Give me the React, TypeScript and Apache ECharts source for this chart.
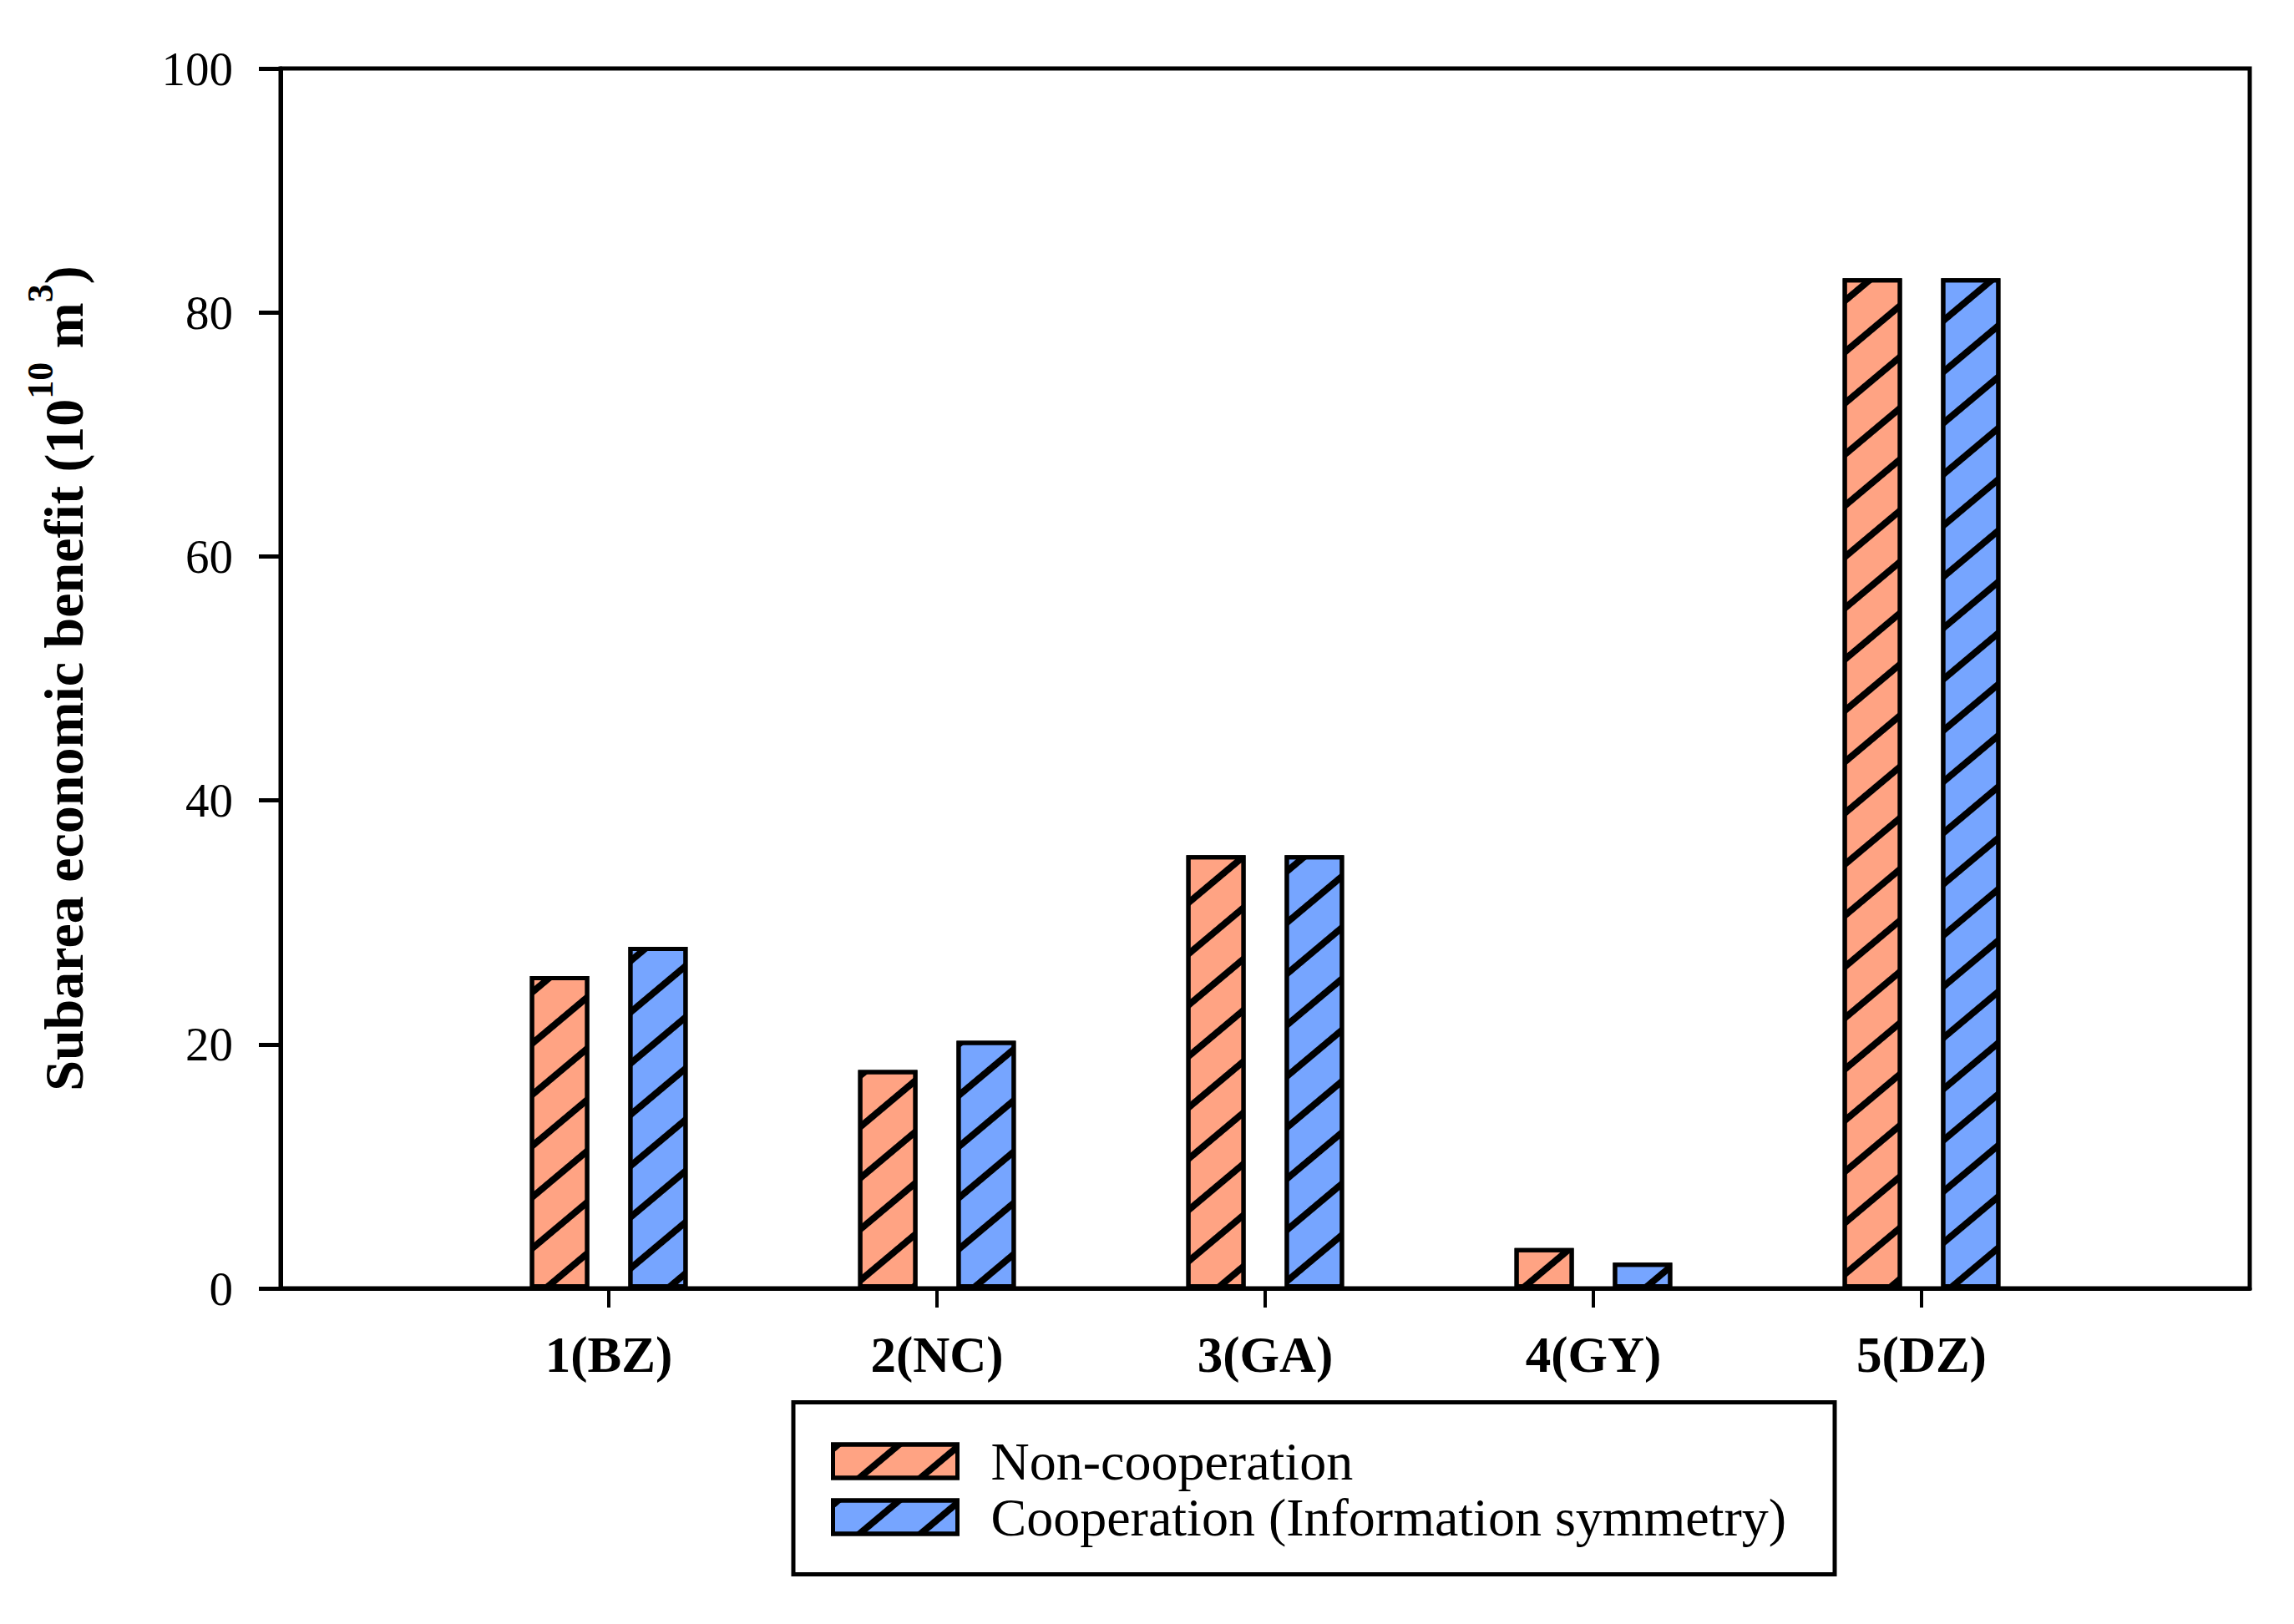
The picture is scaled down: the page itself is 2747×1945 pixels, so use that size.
import React, { useEffect, useRef } from 'react';
import * as echarts from 'echarts';

const categories = ['1(BZ)', '2(NC)', '3(GA)', '4(GY)', '5(DZ)'];
const nonCooperation = [25.6, 17.9, 35.5, 3.3, 82.8];
const cooperation = [28.0, 20.3, 35.5, 2.1, 82.8];
const seriesNames = ['Non-cooperation', 'Cooperation (Information symmetry)'];
const yMin = 0;
const yMax = 100;
const yStep = 20;

const SERIF = '"Liberation Serif", "Times New Roman", Times, serif';

export default function App() {
  const ref = useRef<HTMLDivElement>(null);

  useEffect(() => {
    document.body.style.margin = '0';
    const chart = echarts.init(ref.current as HTMLDivElement, undefined, { renderer: 'svg' });
    const pad = (arr: number[]) => ['-', ...arr, '-'];
    const xLabels = ['', ...categories, ''];
    const hatch = {
      symbol: 'rect',
      symbolSize: 1,
      dashArrayX: [1, 0],
      dashArrayY: [8, 39],
      rotation: (-40 * Math.PI) / 180,
      color: '#000',
    };

    const option: any = {
      animation: false,
      backgroundColor: '#fff',
      grid: {
        left: 336,
        top: 82,
        right: 53,
        bottom: 402,
        show: true,
        borderColor: '#000',
        borderWidth: 5,
        backgroundColor: 'transparent',
      },
      xAxis: {
        type: 'category',
        data: xLabels,
        boundaryGap: false,
        axisLine: { show: true, lineStyle: { color: '#000', width: 5 } },
        axisTick: {
          show: true,
          length: 23,
          inside: false,
          interval: (_i: number, v: string) => v !== '',
          lineStyle: { color: '#000', width: 4 },
        },
        axisLabel: {
          interval: 0,
          margin: 49,
          color: '#000',
          fontFamily: SERIF,
          fontWeight: 'bold',
          fontSize: 61,
        },
        splitLine: { show: false },
      },
      yAxis: {
        type: 'value',
        min: yMin,
        max: yMax,
        interval: yStep,
        name: '{a|Subarea economic benefit (10}{s|10}{a| m}{s|3}{a|)}',
        nameLocation: 'middle',
        nameRotate: 90,
        nameGap: 210,
        nameTextStyle: {
          color: '#000',
          fontFamily: SERIF,
          fontWeight: 'bold',
          fontSize: 66,
          rich: {
            a: { fontFamily: SERIF, fontWeight: 'bold', fontSize: 66, lineHeight: 100, color: '#000' },
            s: { fontFamily: SERIF, fontWeight: 'bold', fontSize: 44, verticalAlign: 'top', color: '#000' },
          },
        },
        axisLine: { show: true, lineStyle: { color: '#000', width: 5 } },
        axisTick: { show: true, length: 26, inside: false, lineStyle: { color: '#000', width: 5 } },
        axisLabel: {
          margin: 57,
          color: '#000',
          fontFamily: SERIF,
          fontSize: 57,
        },
        splitLine: { show: false },
      },
      legend: {
        show: true,
        orient: 'vertical',
        left: 950,
        top: 1679,
        padding: [39, 0, 0, 45],
        itemWidth: 149,
        itemHeight: 40,
        itemGap: 3,
        icon: 'rect',
        selectedMode: false,
        data: seriesNames,
        itemStyle: { borderColor: '#000', borderWidth: 5 },
        textStyle: {
          color: '#000',
          fontFamily: SERIF,
          fontSize: 64,
          lineHeight: 62,
          padding: [0, 0, 0, 35],
        },
      },
      graphic: [
        {
          type: 'rect',
          shape: { x: 950, y: 1679.5, width: 1247, height: 206 },
          style: { fill: 'none', stroke: '#000', lineWidth: 5 },
          silent: true,
        },
      ],
      series: [
        {
          type: 'bar',
          name: seriesNames[0],
          data: pad(nonCooperation),
          barWidth: 71,
          barGap: '66%',
          itemStyle: { color: '#FFA383', borderColor: '#000', borderWidth: 5, decal: hatch },
          emphasis: { disabled: true },
        },
        {
          type: 'bar',
          name: seriesNames[1],
          data: pad(cooperation),
          barWidth: 71,
          barGap: '66%',
          itemStyle: { color: '#76A5FF', borderColor: '#000', borderWidth: 5, decal: hatch },
          emphasis: { disabled: true },
        },
      ],
    };

    chart.setOption(option);
    return () => chart.dispose();
  }, []);

  return (
    <div
      ref={ref}
      style={{ position: 'fixed', left: 0, top: 0, width: 2747, height: 1945, background: '#fff' }}
    />
  );
}
